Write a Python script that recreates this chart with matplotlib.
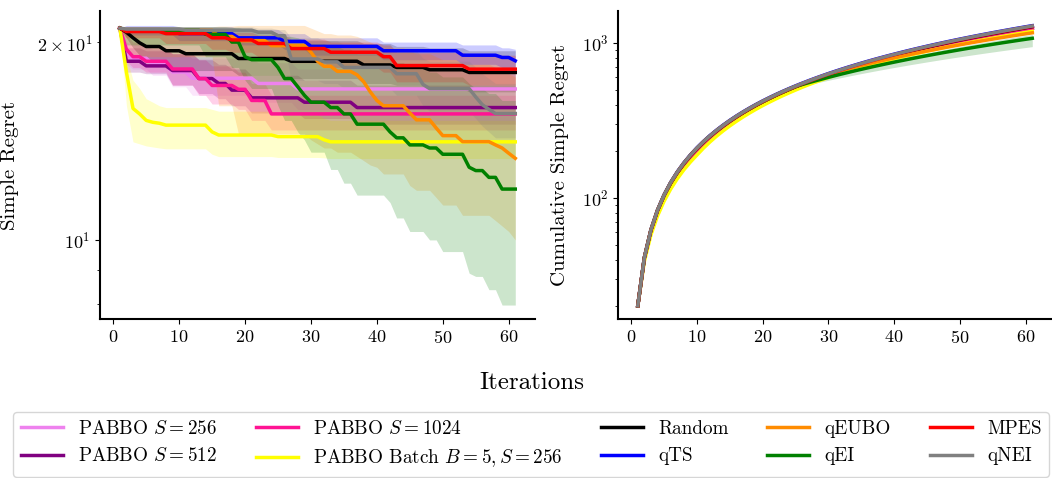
import numpy as np
import matplotlib.pyplot as plt

# Computer Modern look
plt.rcParams["font.family"] = "serif"
plt.rcParams["font.serif"] = ["cmr10"]
plt.rcParams["mathtext.fontset"] = "cm"
plt.rcParams["axes.formatter.use_mathtext"] = True

iterations = np.arange(1, 62)

labels = [
    r"PABBO $S=256$", r"PABBO $S=512$", r"PABBO $S=1024$",
    r"PABBO Batch $B=5, S=256$", "Random", "qTS", "qEUBO", "qEI", "MPES", "qNEI",
]
colors = ["violet", "purple", "deeppink", "yellow", "black", "blue",
          "darkorange", "green", "red", "gray"]

# Simple regret, stored as step runs (run length, value)
violet_counts = [1, 1, 3, 3, 3, 10, 6, 34]
violet_mean = [21.0, 19.2, 18.9, 18.5, 18.0, 17.62, 17.3, 16.97]
violet_hi = [21.0, 20.0, 19.8, 19.5, 19.2, 18.9, 18.6, 18.2]
violet_lo = [21.0, 18.5, 18.2, 17.8, 17.1, 16.6, 16.2, 15.8]

purple_counts = [1, 3, 4, 4, 3, 2, 3, 8, 8, 25]
purple_mean = [21.0, 18.7, 18.4, 18.1, 17.6, 17.3, 16.9, 16.45, 16.2, 15.9]
purple_hi = [21.0, 19.6, 19.4, 19.2, 18.8, 18.5, 18.2, 17.8, 17.5, 17.2]
purple_lo = [21.0, 18.0, 17.9, 17.2, 16.7, 16.4, 16.0, 15.6, 15.3, 15.0]

pink_counts = [1, 1, 2, 4, 4, 2, 4, 2, 3, 38]
pink_mean = [21.0, 19.5, 19.0, 18.7, 18.2, 17.6, 17.18, 16.95, 16.3, 15.55]
pink_hi = [21.0, 20.5, 20.0, 19.6, 19.2, 18.8, 18.4, 18.0, 17.3, 16.6]
pink_lo = [21.0, 18.7, 18.3, 18.0, 17.2, 16.6, 16.1, 15.8, 15.2, 14.7]

yellow_counts = [1, 1, 1, 1, 1, 1, 1, 7, 1, 9, 7, 1, 29]
yellow_mean = [21.0, 18.0, 15.85, 15.55, 15.2, 15.1, 15.05, 14.95, 14.6, 14.44, 14.36, 14.2, 14.1]
yellow_hi = [21.0, 19.0, 17.5, 17.0, 16.4, 16.2, 16.0, 15.9, 15.8, 15.7, 15.5, 15.3, 15.2]
yellow_lo = [21.0, 16.0, 14.1, 14.0, 13.9, 13.85, 13.8, 13.76, 13.5, 13.39, 13.35, 13.33, 13.3]

black_counts = [1, 1, 1, 1, 3, 3, 8, 8, 11, 5, 5, 6, 8]
black_mean = [21.0, 20.7, 20.3, 19.95, 19.69, 19.4, 19.2, 18.88, 18.7, 18.46, 18.3, 18.15, 17.98]
black_hi = [21.0, 20.95, 20.9, 20.8, 20.7, 20.6, 20.5, 20.3, 20.1, 19.9, 19.7, 19.6, 19.4]
black_lo = [21.0, 20.3, 19.6, 19.1, 18.7, 18.3, 18.1, 17.8, 17.6, 17.3, 17.2, 17.0, 16.8]

blue_counts = [1, 8, 9, 7, 4, 11, 12, 6, 2, 1]
blue_mean = [21.0, 20.85, 20.6, 20.3, 20.05, 19.7, 19.4, 19.1, 18.95, 18.73]
blue_hi = [21.0, 21.2, 21.1, 20.9, 20.6, 20.3, 20.0, 19.8, 19.6, 19.5]
blue_lo = [21.0, 20.5, 20.1, 19.8, 19.5, 19.1, 18.8, 18.5, 18.3, 18.1]

orange_counts = [1, 14, 3, 5, 6, 1, 1, 2, 3, 1, 1, 1, 1, 4, 1, 3, 1, 3, 5, 1, 1, 1, 1]
orange_mean = [21.0, 20.85, 20.4, 20.1, 19.75, 19.3, 18.7, 18.37, 18.05, 17.83, 17.4, 16.8,
               16.3, 16.0, 15.6, 15.23, 14.8, 14.41, 14.11, 13.95, 13.8, 13.55, 13.31]
orange_hi = [21.0, 21.1, 21.15, 21.2, 21.2, 21.0, 20.8, 20.6, 20.5, 20.4, 20.2, 20.0,
             19.8, 19.6, 19.4, 19.2, 19.0, 18.8, 18.5, 18.3, 18.1, 17.9, 17.7]
orange_lo = [21.0, 19.0, 16.0, 14.5, 14.5, 14.2, 14.0, 13.8, 13.6, 13.4, 13.2, 13.0,
             12.9, 12.6, 12.1, 11.9, 11.6, 11.3, 10.9, 10.7, 10.5, 10.3, 10.0]

green_counts = [1, 12, 4, 2, 1, 4, 1, 2, 1, 1, 3, 2, 2, 5, 1, 2, 3, 2, 4, 1, 2, 2, 3]
green_mean = [21.0, 20.85, 20.55, 20.0, 19.0, 18.8, 18.3, 17.6, 17.1, 16.6, 16.2, 15.9,
              15.55, 15.0, 14.6, 14.3, 13.95, 13.8, 13.5, 12.9, 12.75, 12.45, 11.95]
green_hi = [21.0, 21.1, 21.1, 21.05, 20.9, 20.8, 20.6, 20.4, 20.3, 20.1, 19.9, 19.7,
            19.5, 19.2, 18.9, 18.6, 18.3, 18.0, 17.7, 17.3, 17.0, 16.7, 16.3]
green_lo = [21.0, 19.8, 19.0, 18.3, 17.5, 17.0, 16.0, 15.2, 14.6, 14.2, 13.6, 12.8,
            12.2, 11.7, 11.4, 10.8, 10.3, 10.0, 9.6, 8.9, 8.8, 8.4, 7.96]

red_counts = [1, 6, 7, 3, 4, 5, 6, 8, 2, 11, 8]
red_mean = [21.0, 20.75, 20.6, 20.3, 20.15, 19.9, 19.55, 19.3, 19.0, 18.42, 18.19]
red_hi = [21.0, 21.1, 21.0, 20.8, 20.7, 20.5, 20.2, 20.0, 19.8, 19.3, 19.1]
red_lo = [21.0, 20.3, 19.9, 19.5, 19.3, 19.0, 18.6, 18.3, 18.0, 17.4, 17.2]

gray_counts = [1, 9, 11, 3, 2, 5, 3, 8, 4, 1, 7, 1, 1, 1, 4]
gray_mean = [21.0, 20.93, 20.85, 20.7, 20.45, 18.85, 18.66, 18.3, 17.9, 17.24, 16.99,
             16.5, 16.06, 15.8, 15.57]
gray_hi = [21.0, 21.1, 21.1, 21.0, 20.9, 20.3, 20.1, 19.8, 19.4, 18.9, 18.7, 18.3,
           17.9, 17.6, 17.3]
gray_lo = [21.0, 20.7, 20.5, 20.1, 19.7, 17.5, 17.3, 17.0, 16.6, 16.0, 15.7, 15.3,
           14.9, 14.6, 14.3]

# Per-step regret feeding the cumulative panel (run length, value)
violet_step_counts, violet_step = [1, 60], [20.2, 20.5]
purple_step_counts, purple_step = [1, 60], [20.2, 20.4]
pink_step_counts, pink_step = [1, 60], [20.2, 20.3]
yellow_step_counts, yellow_step = [1, 9, 20, 31], [20.2, 18.8, 20.5, 19.0]
black_step_counts, black_step = [1, 60], [20.2, 20.9]
blue_step_counts, blue_step = [1, 60], [20.2, 21.2]
orange_step_counts, orange_step = [1, 29, 31], [20.2, 21.0, 17.2]
green_step_counts, green_step = [1, 24, 36], [20.2, 21.0, 15.2]
green_step_lo, green_step_hi = [20.2, 20.6, 12.0], [20.2, 21.2, 16.8]
red_step_counts, red_step = [1, 60], [20.2, 21.0]
gray_step_counts, gray_step = [1, 60], [20.2, 21.1]


def runs(values, counts):
    return np.repeat(values, counts)


left_data = [
    (violet_counts, violet_mean, violet_lo, violet_hi),
    (purple_counts, purple_mean, purple_lo, purple_hi),
    (pink_counts, pink_mean, pink_lo, pink_hi),
    (yellow_counts, yellow_mean, yellow_lo, yellow_hi),
    (black_counts, black_mean, black_lo, black_hi),
    (blue_counts, blue_mean, blue_lo, blue_hi),
    (orange_counts, orange_mean, orange_lo, orange_hi),
    (green_counts, green_mean, green_lo, green_hi),
    (red_counts, red_mean, red_lo, red_hi),
    (gray_counts, gray_mean, gray_lo, gray_hi),
]
right_data = [
    (violet_step_counts, violet_step),
    (purple_step_counts, purple_step),
    (pink_step_counts, pink_step),
    (yellow_step_counts, yellow_step),
    (black_step_counts, black_step),
    (blue_step_counts, blue_step),
    (orange_step_counts, orange_step),
    (green_step_counts, green_step),
    (red_step_counts, red_step),
    (gray_step_counts, gray_step),
]

fig = plt.figure(figsize=(10.52, 4.78), dpi=100)
ax1 = fig.add_axes([0.0951, 0.3326, 0.4135, 0.6444])
ax2 = fig.add_axes([0.5875, 0.3326, 0.4125, 0.6444])

lw = 2.5
for (counts, mean, lo, hi), label, color in zip(left_data, labels, colors):
    ax1.fill_between(iterations, runs(lo, counts), runs(hi, counts),
                     color=color, alpha=0.2, linewidth=0)
    ax1.plot(iterations, runs(mean, counts), color=color, lw=lw, label=label)

for (counts, step), label, color in zip(right_data, labels, colors):
    if color == "green":
        ax2.fill_between(iterations,
                         np.cumsum(runs(green_step_lo, counts)),
                         np.cumsum(runs(green_step_hi, counts)),
                         color=color, alpha=0.2, linewidth=0)
    ax2.plot(iterations, np.cumsum(runs(step, counts)), color=color, lw=lw)

for ax in (ax1, ax2):
    ax.set_yscale("log")
    ax.set_xlim(-2, 64)
    ax.set_xticks([0, 10, 20, 30, 40, 50, 60])
    ax.spines["top"].set_visible(False)
    ax.spines["right"].set_visible(False)
    ax.spines["left"].set_linewidth(1.5)
    ax.spines["bottom"].set_linewidth(1.5)
    ax.tick_params(which="both", labelsize=13)

ax1.set_ylim(7.58, 22.3)
ax2.set_ylim(16.6, 1607)

ax1.set_ylabel("Simple Regret", fontsize=15)
ax1.yaxis.set_label_coords(-0.186, 0.5)
ax2.set_ylabel("Cumulative Simple Regret", fontsize=15)
ax2.yaxis.set_label_coords(-0.113, 0.5)

fig.text(0.506, 0.199, "Iterations", fontsize=18, ha="center", va="center")

handles, _ = ax1.get_legend_handles_labels()
fig.legend(handles, labels, loc="lower center", bbox_to_anchor=(0.505, 0.0),
           ncol=5, fontsize=13.8, columnspacing=2.0, handlelength=2.2,
           borderaxespad=0.05)

plt.savefig("out.png", dpi=100)
